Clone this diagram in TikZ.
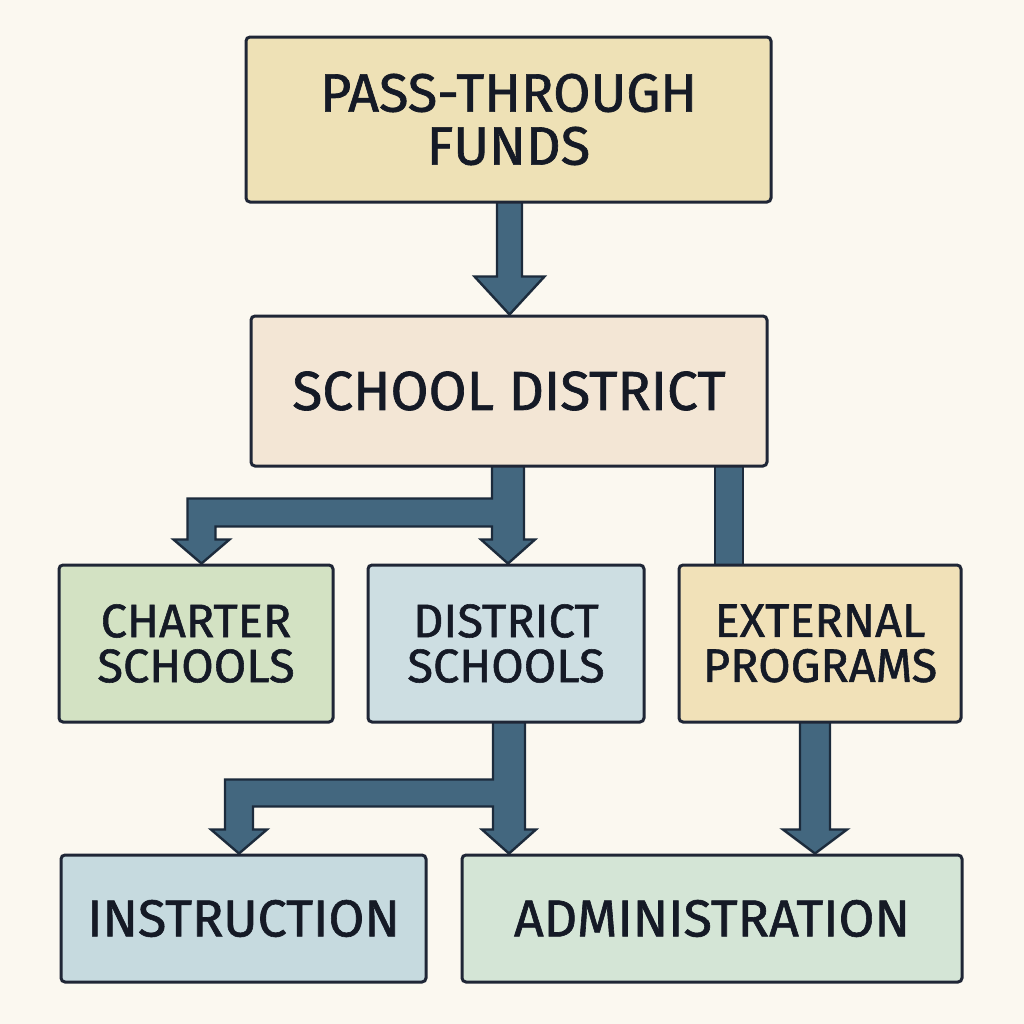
\documentclass[tikz,border=0pt]{standalone}
\usepackage{fontspec}
\setmainfont{Fira Sans}[FakeBold=1.2]
\usetikzlibrary{calc}
\pgfdeclarelayer{bg}\pgfdeclarelayer{arr}\pgfsetlayers{bg,arr,main}
\definecolor{bgcol}{HTML}{FBF8F0}
\definecolor{boxline}{HTML}{1F2636}
\definecolor{textcol}{HTML}{151A26}
\definecolor{ptfill}{HTML}{EEE1B6}
\definecolor{sdfill}{HTML}{F3E6D5}
\definecolor{chfill}{HTML}{D3E2C3}
\definecolor{dsfill}{HTML}{CDDEE2}
\definecolor{exfill}{HTML}{F1E1B8}
\definecolor{infill}{HTML}{C6DADF}
\definecolor{adfill}{HTML}{D4E5D6}
\definecolor{arrfill}{HTML}{43677F}
\definecolor{arrline}{HTML}{1C2B3C}
% straight down arrow: name, x, from, to, shaft half, head half, head length
\newcommand\dnarrow[7]{%
  \coordinate (#1s) at (#2,0 |- #3.south);
  \coordinate (#1e) at (#2,0 |- #4.north);
  \draw[conn] ($(#1s)+(-#5,-3)$) -- ($(#1e)+(-#5,-#7)$) -- ($(#1e)+(-#6,-#7)$) -- (#1e)
    -- ($(#1e)+(#6,-#7)$) -- ($(#1e)+(#5,-#7)$) -- ($(#1s)+(#5,-3)$) -- cycle;}
% branched arrow: name, xc, xl, from, to-centre, to-left, bar top offset, bar bottom offset
\newcommand\brarrow[8]{%
  \coordinate (#1s) at (#2,0 |- #4.south);
  \coordinate (#1c) at (#2,0 |- #5.north);
  \coordinate (#1l) at (#3,0 |- #6.north);
  \coordinate (#1b) at (#3,0 |- #4.south);
  \draw[conn] ($(#1s)+(-16,-3)$) -- ($(#1s)+(-16,#7)$) -- ($(#1b)+(-14,#7)$)
    -- ($(#1l)+(-14,-24)$) -- ($(#1l)+(-28,-24)$) -- (#1l) -- ($(#1l)+(28,-24)$)
    -- ($(#1l)+(14,-24)$) -- ($(#1b)+(14,#8)$) -- ($(#1s)+(-16,#8)$)
    -- ($(#1c)+(-16,-24)$) -- ($(#1c)+(-27,-24)$) -- (#1c) -- ($(#1c)+(27,-24)$)
    -- ($(#1c)+(16,-24)$) -- ($(#1s)+(16,-3)$) -- cycle;}
\begin{document}
\begin{tikzpicture}[x=0.5pt,y=-0.5pt,
  box/.style={draw=boxline, line width=1.5pt, rounded corners=2pt, inner sep=0pt,
    align=center, text=textcol},
  conn/.style={fill=arrfill, draw=arrline, line width=1.2pt, line join=miter},
  bigtxt/.style={font=\fontsize{26}{27}\selectfont},
  midtxt/.style={font=\fontsize{23.5}{22.5}\selectfont}]
\begin{pgfonlayer}{bg}
  \fill[bgcol] (0,0) rectangle (1024,1024);
\end{pgfonlayer}
\node[box, fill=ptfill, minimum width=262.5pt, minimum height=82.5pt,
  font=\fontsize{27}{26.5}\selectfont] (pt) at (508.5,119.5) {PASS-THROUGH\\FUNDS};
\node[box, fill=sdfill, minimum width=258pt, minimum height=75pt,
  font=\fontsize{27.5}{27}\selectfont] (sd) at (509,391) {SCHOOL DISTRICT};
\node[box, midtxt, fill=chfill, minimum width=137pt, minimum height=78.5pt] (ch) at (196,643.5) {CHARTER\\SCHOOLS};
\node[box, midtxt, fill=dsfill, minimum width=138pt, minimum height=78.5pt] (ds) at (506,643.5) {DISTRICT\\SCHOOLS};
\node[box, midtxt, fill=exfill, minimum width=141pt, minimum height=78.5pt] (ex) at (820,643.5) {EXTERNAL\\PROGRAMS};
\node[box, bigtxt, fill=infill, minimum width=182.5pt, minimum height=63.5pt] (in) at (243.5,918.5) {INSTRUCTION};
\node[box, bigtxt, fill=adfill, minimum width=250pt, minimum height=63.5pt] (ad) at (712,918.5) {ADMINISTRATION};
\begin{pgfonlayer}{arr}
  \dnarrow{aa}{509.5}{pt}{sd}{12.5}{35}{38}
  \brarrow{bb}{508}{201.5}{sd}{ds}{ch}{31}{59}
  \coordinate (rs) at (729,0 |- sd.south);
  \coordinate (re) at (729,0 |- ex.north);
  \draw[conn] ($(rs)+(-14,-3)$) rectangle ($(re)+(14,3)$);
  \brarrow{cc}{509}{239}{ds}{ad}{in}{56}{83}
  \dnarrow{dd}{815}{ex}{ad}{15}{32}{24}
\end{pgfonlayer}
\end{tikzpicture}
\end{document}
